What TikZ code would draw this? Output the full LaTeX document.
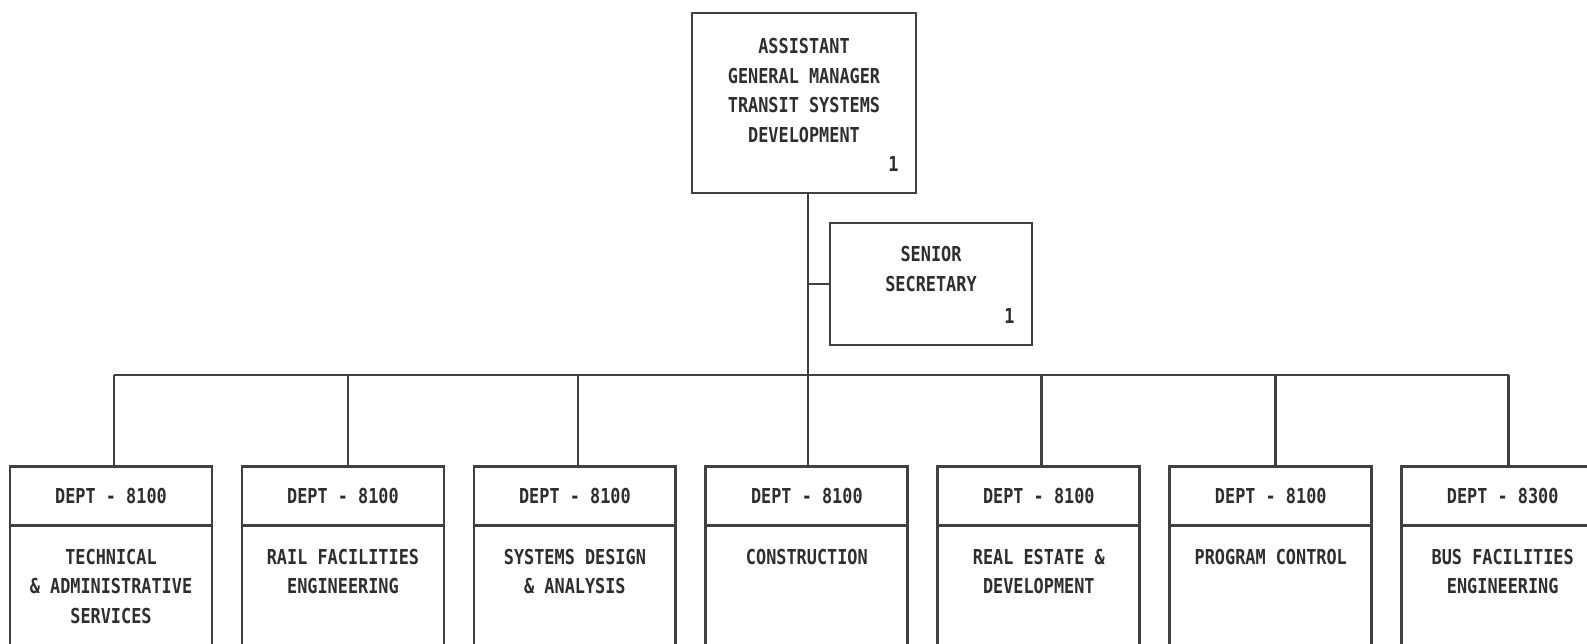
\documentclass[tikz,border=0pt]{standalone}
\usepackage{fontspec}
\newfontfamily\chartfont{DejaVu Sans Mono}[FakeStretch=0.82]
\newcommand{\chartsize}{\fontsize{11.7pt}{16.8pt}\selectfont}
\usetikzlibrary{positioning}
\definecolor{ink}{HTML}{404040}
\definecolor{inktext}{HTML}{2E2E2E}
\tikzset{
  unitbox/.style={draw=ink, line width=1.6pt, inner sep=0pt, outer sep=0pt,
                  minimum width=4.04cm},
  depthead/.style={unitbox, minimum height=1.18cm, text=inktext,
                   font=\chartfont\bfseries\chartsize},
  deptbody/.style={unitbox, minimum height=2.5cm},
  boxtitle/.style={anchor=north, inner sep=0pt, yshift=-0.46cm, align=center,
                   text=inktext, font=\chartfont\bfseries\chartsize},
  headcount/.style={anchor=south east, inner sep=0pt, xshift=-0.34cm, yshift=0.42cm,
                    text=inktext, font=\chartfont\bfseries\chartsize},
  wire/.style={draw=ink, line width=1.6pt},
}

\begin{document}
\begin{tikzpicture}[x=0.02cm, y=-0.02cm]
  \useasboundingbox (0,0) rectangle (1587,644);

  % ---- Management ----
  \node[unitbox, minimum width=4.48cm, minimum height=3.6cm,
        label={[boxtitle, yshift=-0.04cm]north:ASSISTANT\\GENERAL MANAGER\\TRANSIT SYSTEMS\\DEVELOPMENT},
        label={[headcount]south east:1}] (agm) at (804,103) {};
  \node[unitbox, minimum height=2.44cm,
        label={[boxtitle]north:SENIOR\\SECRETARY},
        label={[headcount]south east:1}] (sec) at (931,284) {};

  % ---- Departments ----
  \node[depthead] (d1) at (111,496) {DEPT - 8100};
  \node[deptbody, below=0pt of d1,
        label={[boxtitle]north:TECHNICAL\\\& ADMINISTRATIVE\\SERVICES}] (tas) {};
  \node[depthead, right=0.6cm of d1] (d2) {DEPT - 8100};
  \node[deptbody, below=0pt of d2,
        label={[boxtitle]north:RAIL FACILITIES\\ENGINEERING}] (rfe) {};
  \node[depthead, right=0.6cm of d2] (d3) {DEPT - 8100};
  \node[deptbody, below=0pt of d3,
        label={[boxtitle]north:SYSTEMS DESIGN\\\& ANALYSIS}] (sda) {};
  \node[depthead, right=0.6cm of d3] (d4) {DEPT - 8100};
  \node[deptbody, below=0pt of d4,
        label={[boxtitle]north:CONSTRUCTION}] (con) {};
  \node[depthead, right=0.6cm of d4] (d5) {DEPT - 8100};
  \node[deptbody, below=0pt of d5,
        label={[boxtitle]north:REAL ESTATE \&\\DEVELOPMENT}] (red) {};
  \node[depthead, right=0.6cm of d5] (d6) {DEPT - 8100};
  \node[deptbody, below=0pt of d6,
        label={[boxtitle]north:PROGRAM CONTROL}] (pgc) {};
  \node[depthead, right=0.6cm of d6] (d7) {DEPT - 8300};
  \node[deptbody, below=0pt of d7,
        label={[boxtitle]north:BUS FACILITIES\\ENGINEERING}] (bfe) {};

  % ---- Lines ----
  \coordinate (bus) at (808,375);
  \draw[wire] (agm.south -| bus) -- (bus);
  \draw[wire] (bus |- sec.west) -- (sec.west);
  \draw[wire] ([xshift=0.06cm]d1.north |- bus) -- ([xshift=0.12cm]d7.north |- bus);
  \draw[wire] ([xshift=0.06cm]d1.north) -- ([xshift=0.06cm]d1.north |- bus);
  \draw[wire] ([xshift=0.1cm]d2.north) -- ([xshift=0.1cm]d2.north |- bus);
  \draw[wire] ([xshift=0.06cm]d3.north) -- ([xshift=0.06cm]d3.north |- bus);
  \draw[wire] (d4.north -| bus) -- (bus);
  \draw[wire] ([xshift=0.06cm]d5.north) -- ([xshift=0.06cm]d5.north |- bus);
  \draw[wire] ([xshift=0.1cm]d6.north) -- ([xshift=0.1cm]d6.north |- bus);
  \draw[wire] ([xshift=0.12cm]d7.north) -- ([xshift=0.12cm]d7.north |- bus);
\end{tikzpicture}
\end{document}
